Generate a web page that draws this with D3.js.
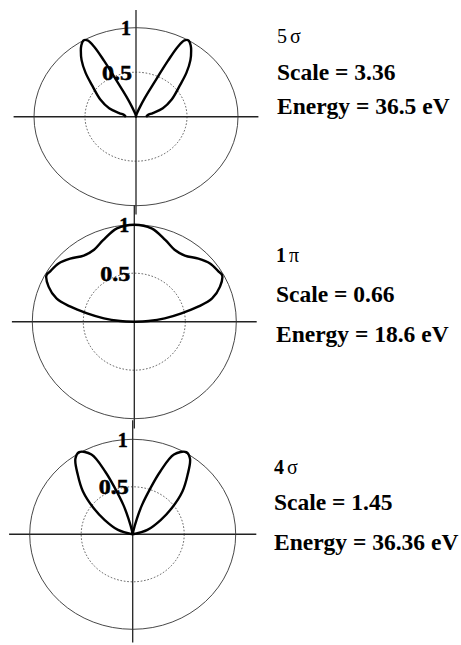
<!DOCTYPE html>
<html>
<head>
<meta charset="utf-8">
<script src="https://cdn.jsdelivr.net/npm/d3@7"></script>
<style>
  html, body { margin: 0; padding: 0; background: #fff; }
  svg { display: block; }
  text { font-family: "Liberation Serif", "Times New Roman", serif; fill: #000; }
</style>
</head>
<body>
<svg id="chart" width="461" height="645"></svg>
<script>
// Orbital labels and annotations
const orbitalNumbers = ["5", "1", "4"];
const orbitalSymbols = ["σ", "π", "σ"];
const scaleValues = [3.36, 0.66, 1.45];
const energyValues = ["36.5", "18.6", "36.36"];
const ringTicks = [0.5, 1];

// Angular distributions: angle from the vertical axis (degrees), normalised intensity
const angles5s = [-90, -85, -80, -76, -70, -61, -51, -45, -40, -36, -34, -31, -29, -27.5, -26.5, -25.5, -24, -22, -20, -15, -10, 0,
                  10, 15, 20, 22, 24, 25.5, 26.5, 27.5, 29, 31, 34, 36, 40, 45, 51, 61, 70, 76, 80, 85, 90];
const r5s = [0.115, 0.105, 0.12, 0.17, 0.28, 0.4, 0.55, 0.7, 0.83, 0.92, 0.96, 1.0, 0.98, 0.88, 0.7, 0.5, 0.33, 0.21, 0.13, 0.05, 0.02, 0,
             0.02, 0.05, 0.13, 0.21, 0.33, 0.5, 0.7, 0.88, 0.98, 1.0, 0.96, 0.92, 0.83, 0.7, 0.55, 0.4, 0.28, 0.17, 0.12, 0.105, 0.115];

const angles1p = [-90, -87, -83.5, -79.5, -76, -72.5, -66.7, -61, -58, -51, -44, -36, -28, -20, -10, 0,
                  10, 20, 28, 36, 44, 51, 58, 61, 66.7, 72.5, 76, 79.5, 83.5, 87, 90];
const r1p = [0, 0.14, 0.3, 0.47, 0.65, 0.8, 0.915, 0.985, 0.975, 0.955, 0.905, 0.843, 0.84, 0.894, 0.977, 1.0,
             0.977, 0.894, 0.84, 0.843, 0.905, 0.955, 0.975, 0.985, 0.915, 0.8, 0.65, 0.47, 0.3, 0.14, 0];

const angles4s = [-90, -72, -61, -54, -47, -40.5, -35, -31, -25.5, -22, -19.5, -16.3, -14, -10, 0,
                  10, 14, 16.3, 19.5, 22, 25.5, 31, 35, 40.5, 47, 54, 61, 72, 90];
const r4s = [0, 0.15, 0.31, 0.47, 0.66, 0.82, 0.97, 1.01, 0.93, 0.71, 0.51, 0.32, 0.17, 0.03, 0,
             0.03, 0.17, 0.32, 0.51, 0.71, 0.93, 1.01, 0.97, 0.82, 0.66, 0.47, 0.31, 0.15, 0];

const distributions = [[angles5s, r5s], [angles1p, r1p], [angles4s, r4s]];

// Panel frames: centre and radii of the unit ring in each panel
const frames = [
  { cx: 136, cy: 116.7, rx: 102, ry: 89, tx: 277, ty: [43, 80, 114], numBold: false, axisBelow: 1.1 },
  { cx: 134.3, cy: 321.7, rx: 102, ry: 97, tx: 276, ty: [262, 302, 341.5], numBold: true, axisBelow: 1.1 },
  { cx: 132.7, cy: 534.3, rx: 103, ry: 95, tx: 274, ty: [474, 510, 550], numBold: true, axisBelow: 1.14 }
];

const svg = d3.select("#chart");

frames.forEach((f, i) => {
  const g = svg.append("g").attr("transform", `translate(${f.cx},${f.cy})`);
  const sx = d3.scaleLinear().domain([0, 1]).range([0, f.rx]);
  const sy = d3.scaleLinear().domain([0, 1]).range([0, f.ry]);

  // axes
  g.append("line").attr("x1", -sx(1.2)).attr("x2", sx(1.2)).attr("y1", 0).attr("y2", 0)
    .attr("stroke", "#222").attr("stroke-width", 1.4);
  g.append("line").attr("x1", 0).attr("x2", 0).attr("y1", -sy(1.2)).attr("y2", sy(f.axisBelow))
    .attr("stroke", "#222").attr("stroke-width", 1.3);

  // rings
  g.append("ellipse").attr("rx", sx(1)).attr("ry", sy(1))
    .attr("fill", "none").attr("stroke", "#333").attr("stroke-width", 0.9);
  g.append("ellipse").attr("rx", sx(0.5)).attr("ry", sy(0.5))
    .attr("fill", "none").attr("stroke", "#333").attr("stroke-width", 0.8)
    .attr("stroke-dasharray", "1.6,1.8");

  // angular distribution curve
  const [angs, rs] = distributions[i];
  const pts = angs.map((a, k) => {
    const th = a * Math.PI / 180;
    return [sx(rs[k]) * Math.sin(th), -sy(rs[k]) * Math.cos(th)];
  });
  const line = d3.line().curve(d3.curveCatmullRom.alpha(0.5));
  g.append("path").attr("d", line(pts))
    .attr("fill", "none").attr("stroke", "#000").attr("stroke-width", 2.4)
    .attr("stroke-linejoin", "round");

  // ring labels, drawn over the curve
  ringTicks.forEach(t => {
    g.append("text")
      .attr("x", t === 1 ? -5 : -4)
      .attr("y", -sy(t) + 7.5)
      .attr("text-anchor", "end")
      .attr("font-weight", "bold")
      .attr("font-size", 21)
      .attr("stroke", "#000").attr("stroke-width", 0.5)
      .attr("textLength", t === 1 ? 10 : 30)
      .attr("lengthAdjust", "spacingAndGlyphs")
      .text(String(t));
  });

  // annotations
  const lab = svg.append("text").attr("x", f.tx).attr("y", f.ty[0]).attr("font-size", 20);
  lab.append("tspan").attr("font-weight", f.numBold ? "bold" : "normal").text(orbitalNumbers[i]);
  lab.append("tspan").attr("dx", 3).text(orbitalSymbols[i]);
  svg.append("text").attr("x", f.tx).attr("y", f.ty[1]).attr("font-size", 23.5).attr("font-weight", "bold")
    .text(`Scale = ${scaleValues[i].toFixed(2)}`);
  svg.append("text").attr("x", f.tx).attr("y", f.ty[2]).attr("font-size", 23.5).attr("font-weight", "bold")
    .text(`Energy = ${energyValues[i]} eV`);
});
</script>
</body>
</html>
